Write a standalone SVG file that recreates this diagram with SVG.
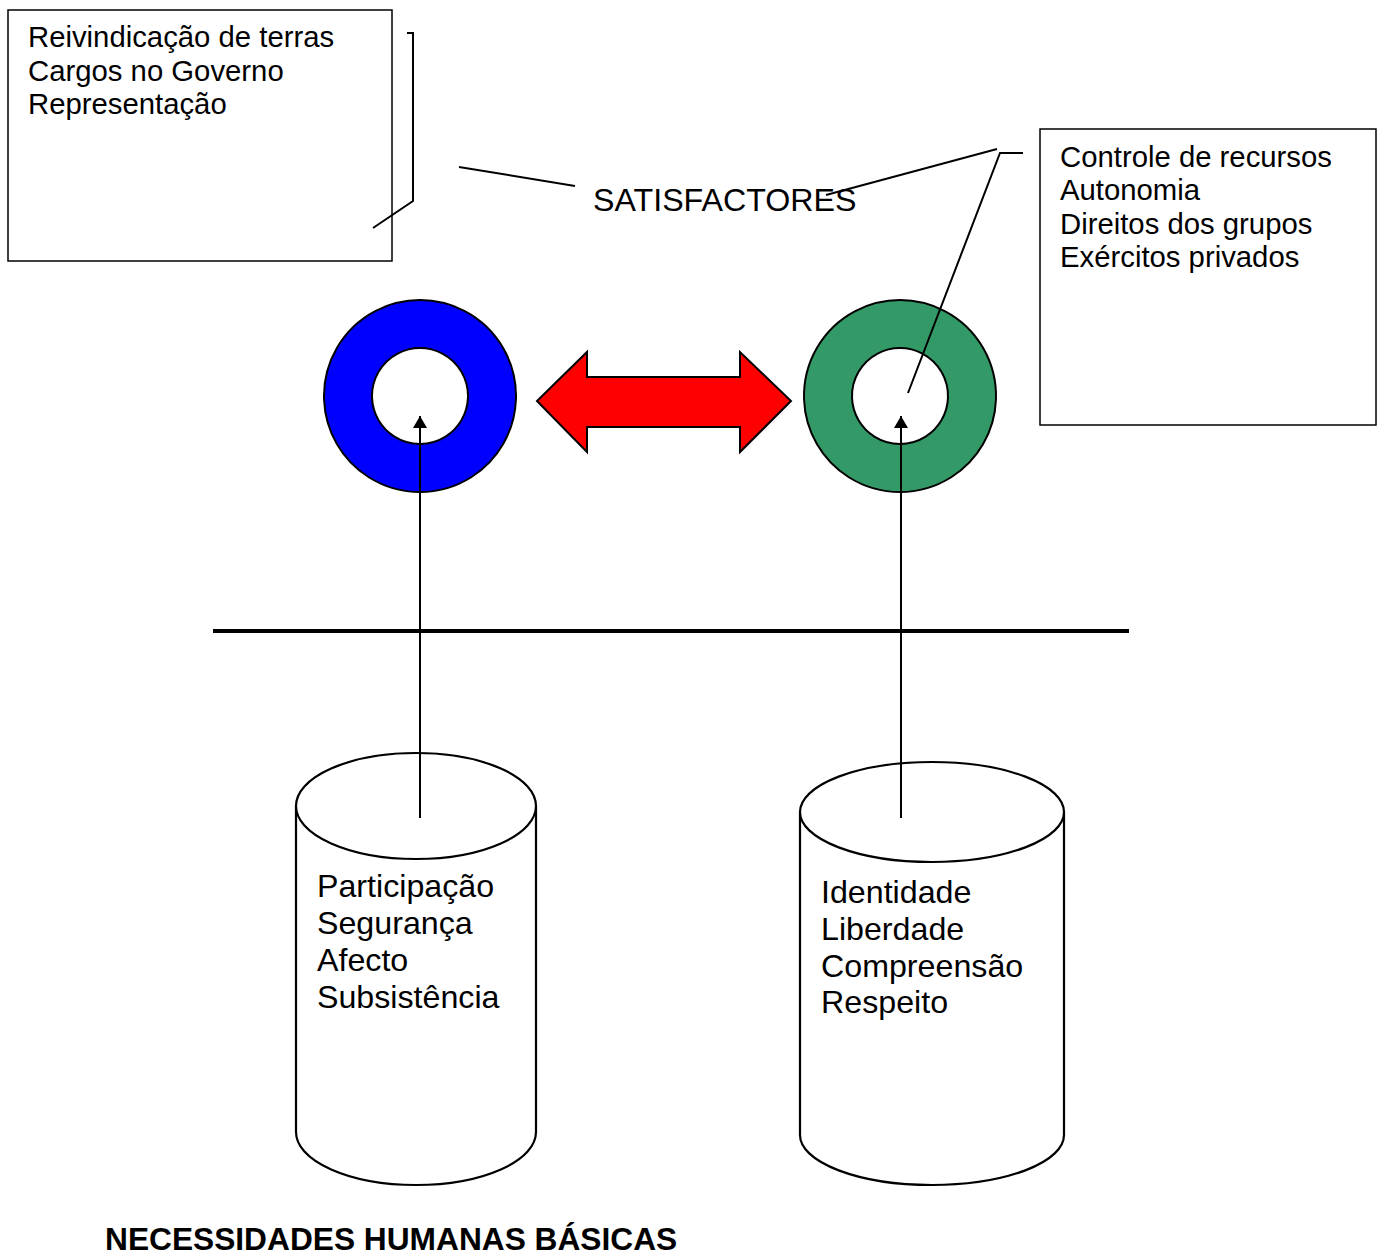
<svg xmlns="http://www.w3.org/2000/svg" width="1385" height="1256" viewBox="0 0 1385 1256">
<defs>
<style>
.t{font-family:"Liberation Sans",Arial,sans-serif;fill:#000}
.s29{font-size:29.3px}
.s32{font-size:32.2px}
.box{fill:#fff;stroke:#000;stroke-width:1.5}
.ln{fill:none;stroke:#000;stroke-width:2}
.cyl{fill:#fff;stroke:#000;stroke-width:2.2}
</style>
<marker id="ah2" viewBox="0 0 12 14" refX="12" refY="7" markerWidth="12" markerHeight="14" markerUnits="userSpaceOnUse" orient="auto">
<path d="M0,0 L12,7 L0,14 Z" fill="#000"/>
</marker>
</defs>
<rect width="1385" height="1256" fill="#fff"/>

<g id="box-left">
<rect class="box" x="8" y="10" width="384" height="251"/>
<text class="t s29" x="28" y="47">Reivindicação de terras</text>
<text class="t s29" x="28" y="81">Cargos no Governo</text>
<text class="t s29" x="28" y="114">Representação</text>
</g>

<g id="box-right">
<rect class="box" x="1040" y="129" width="336" height="296"/>
<text class="t s29" x="1060" y="167">Controle de recursos</text>
<text class="t s29" x="1060" y="200">Autonomia</text>
<text class="t s29" x="1060" y="234">Direitos dos grupos</text>
<text class="t s29" x="1060" y="267">Exércitos privados</text>
</g>

<g id="label-satisfactores">
<text class="t s32" x="593" y="211">SATISFACTORES</text>
</g>

<g id="ring-blue">
<path d="M420,300 a96,96 0 1,0 0.01,0 Z M420,348 a48,48 0 1,1 -0.01,0 Z" fill="#0000ff" fill-rule="evenodd" stroke="#000" stroke-width="2"/>
</g>

<g id="ring-green">
<path d="M900,300 a96,96 0 1,0 0.01,0 Z M900,348 a48,48 0 1,1 -0.01,0 Z" fill="#339966" fill-rule="evenodd" stroke="#000" stroke-width="2"/>
</g>

<g id="double-arrow">
<polygon points="537,401 587,352 587,377 740,377 740,352 791,401 740,452 740,427 587,427 587,452" fill="#ff0000" stroke="#000" stroke-width="2" stroke-linejoin="miter"/>
</g>

<g id="divider">
<line x1="213" y1="631" x2="1129" y2="631" stroke="#000" stroke-width="4"/>
</g>

<g id="cyl-left">
<path class="cyl" d="M296,806 L296,1132 A120,53 0 0,0 536,1132 L536,806"/>
<ellipse class="cyl" cx="416" cy="806" rx="120" ry="53"/>
<text class="t s32" x="317" y="897">Participação</text>
<text class="t s32" x="317" y="934">Segurança</text>
<text class="t s32" x="317" y="971">Afecto</text>
<text class="t s32" x="317" y="1008">Subsistência</text>
</g>

<g id="cyl-right">
<path class="cyl" d="M800,812 L800,1135 A132,50 0 0,0 1064,1135 L1064,812"/>
<ellipse class="cyl" cx="932" cy="812" rx="132" ry="50"/>
<text class="t s32" x="821" y="903">Identidade</text>
<text class="t s32" x="821" y="940">Liberdade</text>
<text class="t s32" x="821" y="977">Compreensão</text>
<text class="t s32" x="821" y="1013">Respeito</text>
</g>

<g id="title">
<text class="t" x="105" y="1250" font-size="31.7" font-weight="bold">NECESSIDADES HUMANAS BÁSICAS</text>
</g>

<g id="connectors">
<line x1="420" y1="818" x2="420" y2="416" stroke="#000" stroke-width="2" marker-end="url(#ah2)"/>
<line x1="901" y1="818" x2="901" y2="416" stroke="#000" stroke-width="2" marker-end="url(#ah2)"/>
<polyline class="ln" points="407,33 413,33 413,201 373,228"/>
<line class="ln" x1="459" y1="167" x2="575" y2="186"/>
<line class="ln" x1="826" y1="195" x2="997" y2="149"/>
<polyline class="ln" points="1023,153 1000,153 908,393"/>
</g>
</svg>
